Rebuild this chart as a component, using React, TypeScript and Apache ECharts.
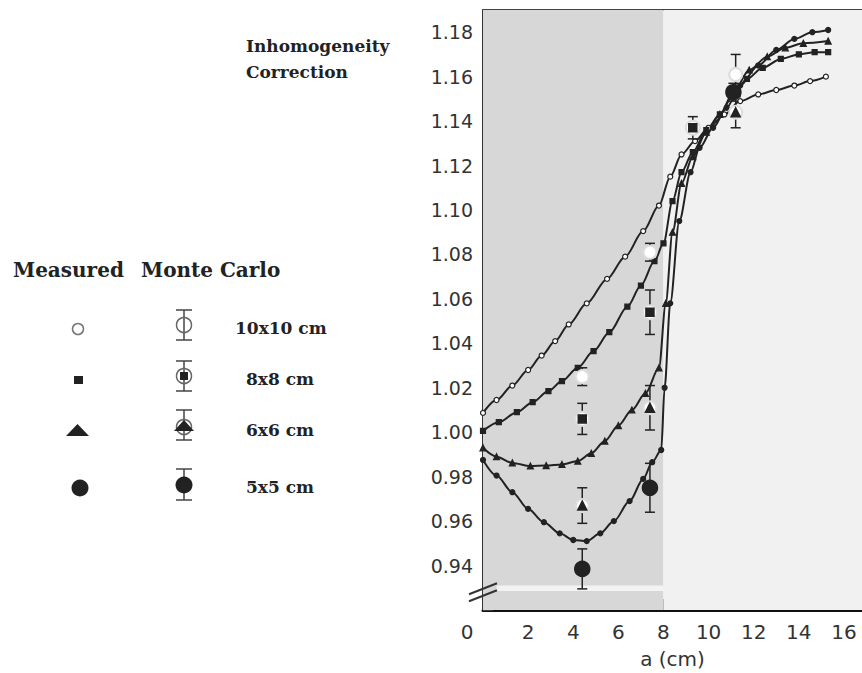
import React, { useEffect, useRef } from "react";
import * as echarts from "echarts";

// Measured curves (x in cm, inhomogeneity correction)
const X10 = [0, 0.6, 1.3, 2.0, 2.6, 3.2, 3.8, 4.6, 5.5, 6.3, 7.1, 7.8, 8.3, 8.8, 9.4, 10.0, 10.7, 11.4, 12.2, 13.0, 13.8, 14.5, 15.2];
const Y10 = [1.0087, 1.0145, 1.021, 1.028, 1.0345, 1.041, 1.0485, 1.058, 1.069, 1.079, 1.0905, 1.102, 1.115, 1.125, 1.131, 1.137, 1.143, 1.149, 1.152, 1.154, 1.156, 1.158, 1.16];

const X8 = [0, 0.7, 1.5, 2.2, 2.9, 3.5, 4.2, 4.9, 5.6, 6.4, 7.0, 7.6, 8.0, 8.4, 8.8, 9.3, 9.9, 10.5, 11.1, 11.7, 12.4, 13.2, 14.0, 14.7, 15.3];
const Y8 = [1.0006, 1.0045, 1.009, 1.0135, 1.0185, 1.023, 1.029, 1.0365, 1.045, 1.0565, 1.066, 1.077, 1.085, 1.104, 1.117, 1.126, 1.136, 1.143, 1.152, 1.159, 1.164, 1.168, 1.17, 1.171, 1.171];

const X6 = [0, 0.6, 1.3, 2.1, 2.8, 3.5, 4.2, 4.8, 5.4, 6.0, 6.6, 7.2, 7.8, 8.1, 8.4, 8.8, 9.3, 9.9, 10.5, 11.1, 11.8, 12.6, 13.4, 14.2, 15.3];
const Y6 = [0.993, 0.989, 0.9862, 0.9848, 0.985, 0.9855, 0.987, 0.9905, 0.996, 1.003, 1.01, 1.0175, 1.029, 1.058, 1.09, 1.112, 1.124, 1.135, 1.143, 1.153, 1.163, 1.169, 1.173, 1.175, 1.176];

const X5 = [0, 0.6, 1.3, 2.0, 2.7, 3.4, 4.0, 4.6, 5.2, 5.8, 6.5, 7.1, 7.5, 7.9, 8.05, 8.3, 8.7, 9.2, 9.6, 10.2, 10.8, 11.4, 12.2, 13.0, 13.8, 14.6, 15.3];
const Y5 = [0.9875, 0.9805, 0.973, 0.9655, 0.9595, 0.9545, 0.9515, 0.951, 0.9545, 0.96, 0.969, 0.979, 0.9865, 0.992, 1.02, 1.058, 1.095, 1.117, 1.128, 1.137, 1.146, 1.156, 1.165, 1.172, 1.177, 1.18, 1.181];

// Monte Carlo points: x, value, error
const MC10_X = [4.4, 7.4, 11.2];
const MC10_Y = [1.025, 1.081, 1.161];
const MC10_E = [0.004, 0.004, 0.009];
const MC8_X = [4.4, 7.4, 9.3];
const MC8_Y = [1.006, 1.054, 1.137];
const MC8_E = [0.007, 0.01, 0.005];
const MC6_X = [4.4, 7.4, 11.2];
const MC6_Y = [0.967, 1.011, 1.144];
const MC6_E = [0.008, 0.01, 0.007];
const MC5_X = [4.4, 7.4, 11.1];
const MC5_Y = [0.9385, 0.975, 1.153];
const MC5_E = [0.009, 0.011, 0.004];

const SLAB = [0, 8];
const X_MIN = 0;
const X_MAX = 16.8;
const Y_MIN = 0.92;
const Y_MAX = 1.19;

const LEGEND_LABELS = ["10x10 cm", "8x8 cm", "6x6 cm", "5x5 cm"];

const zip = (xs: number[], ys: number[]) => xs.map((x, i) => [x, ys[i]]);
const zip3 = (xs: number[], ys: number[], es: number[]) => xs.map((x, i) => [x, ys[i], es[i]]);

const INK = "#222";
const SERIF = '"DejaVu Serif", serif';

function lineSeries(name: string, data: number[][], symbol: string, size: number, fill: string) {
  return {
    name,
    type: "line",
    data,
    smooth: 0.3,
    smoothMonotone: "x",
    symbol,
    symbolSize: size,
    showAllSymbol: true,
    lineStyle: { color: INK, width: 2, type: "solid" },
    itemStyle: { color: fill, borderColor: INK, borderWidth: 1.2 },
    z: 3,
  };
}

function errSeries(data: number[][]) {
  return {
    type: "custom",
    data,
    z: 4,
    renderItem: (params: any, api: any) => {
      const x = api.value(0);
      const y = api.value(1);
      const e = api.value(2);
      const t = api.coord([x, y + e]);
      const b = api.coord([x, y - e]);
      const w = 5;
      const st = { stroke: INK, lineWidth: 1.5 };
      return {
        type: "group",
        children: [
          { type: "line", shape: { x1: t[0], y1: t[1], x2: b[0], y2: b[1] }, style: st },
          { type: "line", shape: { x1: t[0] - w, y1: t[1], x2: t[0] + w, y2: t[1] }, style: st },
          { type: "line", shape: { x1: b[0] - w, y1: b[1], x2: b[0] + w, y2: b[1] }, style: st },
        ],
      };
    },
  };
}

function scat(data: number[][], symbol: string, size: number, fill: string, z = 5) {
  return {
    type: "scatter",
    data,
    symbol,
    symbolSize: size,
    itemStyle: { color: fill, borderColor: INK, borderWidth: 1.5, opacity: 1 },
    z,
  };
}

function legendGraphics() {
  const g: any[] = [];
  const txt = (text: string, x: number, y: number, size: number) => ({
    type: "text",
    x,
    y,
    style: { text, fontSize: size, fontWeight: "bold", fontFamily: SERIF, fill: INK, verticalAlign: "middle", align: "left" },
  });
  g.push(txt("Inhomogeneity", 246, 46, 17));
  g.push(txt("Correction", 246, 72, 17));
  g.push(txt("Measured", 13, 270, 20));
  g.push(txt("Monte Carlo", 141, 270, 20));
  const rows = [329, 380, 431, 488];
  LEGEND_LABELS.forEach((l, i) => g.push(txt(l, i === 0 ? 235 : 246, rows[i] - 1, 17)));
  // measured symbols
  g.push({ type: "circle", shape: { cx: 78, cy: rows[0], r: 5.5 }, style: { fill: "#fff", stroke: "#777", lineWidth: 1.5 } });
  g.push({ type: "rect", shape: { x: 74, y: rows[1] - 4, width: 9, height: 8 }, style: { fill: INK } });
  g.push({ type: "polygon", shape: { points: [[66, rows[2] + 5], [89, rows[2] + 5], [77.5, rows[2] - 7]] }, style: { fill: INK } });
  g.push({ type: "circle", shape: { cx: 80, cy: rows[3], r: 8.5 }, style: { fill: INK } });
  // Monte Carlo symbols with error bars
  const mx = 184;
  const bar = (cy: number, up: number, dn: number) => {
    const st = { stroke: "#444", lineWidth: 1.5 };
    g.push({ type: "line", shape: { x1: mx, y1: cy - up, x2: mx, y2: cy + dn }, style: st });
    g.push({ type: "line", shape: { x1: mx - 8, y1: cy - up, x2: mx + 8, y2: cy - up }, style: st });
    g.push({ type: "line", shape: { x1: mx - 8, y1: cy + dn, x2: mx + 8, y2: cy + dn }, style: st });
  };
  bar(325, 15, 15);
  g.push({ type: "circle", shape: { cx: mx, cy: 325, r: 7.5 }, style: { fill: "none", stroke: "#666", lineWidth: 1.5 } });
  bar(376, 15, 15);
  g.push({ type: "circle", shape: { cx: mx, cy: 376, r: 7.5 }, style: { fill: "none", stroke: "#666", lineWidth: 1.5 } });
  g.push({ type: "rect", shape: { x: mx - 4, y: 372, width: 8, height: 8 }, style: { fill: INK } });
  bar(427, 17, 13);
  g.push({ type: "circle", shape: { cx: mx, cy: 427, r: 7.5 }, style: { fill: "none", stroke: "#666", lineWidth: 1.5 } });
  g.push({ type: "polygon", shape: { points: [[mx - 10, 431], [mx + 10, 431], [mx, 420]] }, style: { fill: INK } });
  bar(485, 16, 15);
  g.push({ type: "circle", shape: { cx: mx, cy: 485, r: 8.5 }, style: { fill: INK } });
  return g;
}

export default function App() {
  const ref = useRef<HTMLDivElement>(null);
  useEffect(() => {
    if (!ref.current) return;
    const chart = echarts.init(ref.current, undefined, { renderer: "svg" });
    const axisFont = { fontFamily: '"DejaVu Sans", sans-serif', color: "#333" };
    const option: any = {
      animation: false,
      backgroundColor: "#fff",
      grid: { left: 483, right: 0, top: 10, bottom: 63, containLabel: false, outerBoundsMode: "none" },
      xAxis: [
        {
          type: "value",
          min: X_MIN,
          max: X_MAX,
          interval: 2,
          name: "a (cm)",
          nameLocation: "middle",
          nameGap: 39,
          nameTextStyle: { ...axisFont, fontSize: 20 },
          axisLine: { onZero: false, lineStyle: { color: "#111", width: 3 } },
          axisTick: { inside: true, length: 11, lineStyle: { color: "#333", width: 2 } },
          axisLabel: {
            ...axisFont,
            fontSize: 20,
            margin: 12,
            formatter: (v: number) => (Math.abs(v % 2) > 1e-6 ? "" : v === 0 ? "{z|0}" : String(v)),
            rich: { z: { ...axisFont, fontSize: 20, padding: [0, 32, 0, 0] } },
          },
          splitLine: { show: false },
        },
        {
          type: "value",
          position: "top",
          min: X_MIN,
          max: X_MAX,
          axisLine: { show: true, onZero: false, lineStyle: { color: "#444", width: 2 } },
          axisTick: { show: false },
          axisLabel: { show: false },
          splitLine: { show: false },
        },
      ],
      yAxis: [
        {
          type: "value",
          min: Y_MIN,
          max: Y_MAX,
          interval: 0.02,
          axisLine: { show: true, onZero: false, lineStyle: { color: "#333", width: 2 } },
          axisTick: { inside: true, length: 10, lineStyle: { color: "#444", width: 1.5 } },
          axisLabel: {
            ...axisFont,
            fontSize: 19,
            margin: 10,
            formatter: (v: number) => (v < 0.935 || v > 1.185 ? "" : v.toFixed(2)),
          },
          splitLine: { show: false },
        },
        {
          type: "value",
          min: Y_MIN,
          max: Y_MAX,
          interval: 0.02,
          axisLine: { show: false },
          axisTick: { show: true, inside: false, length: 7, lineStyle: { color: "#444", width: 1.5 } },
          axisLabel: { show: false },
          splitLine: { show: false },
        },
      ],
      series: [
        {
          type: "line",
          data: [],
          silent: true,
          markArea: {
            silent: true,
            data: [
              [{ xAxis: SLAB[0], yAxis: Y_MIN, itemStyle: { color: "#d7d7d7" } }, { xAxis: SLAB[1], yAxis: Y_MAX }],
              [{ xAxis: SLAB[1], yAxis: Y_MIN, itemStyle: { color: "#f1f1f1" } }, { xAxis: X_MAX, yAxis: Y_MAX }],
              [{ xAxis: 0.6, yAxis: 0.9285, itemStyle: { color: "#f3f3f3" } }, { xAxis: SLAB[1], yAxis: 0.931 }],
            ],
          },
          z: 1,
        },
        lineSeries("10x10", zip(X10, Y10), "circle", 5, "#fff"),
        lineSeries("8x8", zip(X8, Y8), "rect", 5, INK),
        lineSeries("6x6", zip(X6, Y6), "triangle", 6, INK),
        lineSeries("5x5", zip(X5, Y5), "circle", 5, INK),
        errSeries(zip3(MC10_X, MC10_Y, MC10_E)),
        errSeries(zip3(MC8_X, MC8_Y, MC8_E)),
        errSeries(zip3(MC6_X, MC6_Y, MC6_E)),
        errSeries(zip3(MC5_X, MC5_Y, MC5_E)),
        scat(zip(MC10_X, MC10_Y), "emptyCircle", 13, "#ddd"),
        scat(zip(MC8_X, MC8_Y), "emptyCircle", 14, "#ddd"),
        scat(zip(MC8_X, MC8_Y), "rect", 8, INK, 6),
        scat(zip(MC6_X, MC6_Y), "emptyCircle", 13, "#ddd"),
        scat(zip(MC6_X, MC6_Y), "triangle", 9, INK, 6),
        scat(zip(MC5_X, MC5_Y), "circle", 15, INK),
      ],
      graphic: legendGraphics(),
    };
    chart.setOption(option);
    // axis break marks on the y axis
    const p = chart.convertToPixel({ gridIndex: 0 }, [0, 0.928]) as number[];
    if (p) {
      const st = { stroke: "#333", lineWidth: 2 };
      chart.setOption({
        graphic: [
          ...legendGraphics(),
          { type: "line", shape: { x1: p[0] - 14, y1: p[1] + 2, x2: p[0] + 14, y2: p[1] - 9 }, style: st, z: 10 },
          { type: "line", shape: { x1: p[0] - 14, y1: p[1] + 9, x2: p[0] + 14, y2: p[1] - 2 }, style: st, z: 10 },
        ],
      });
    }
    return () => chart.dispose();
  }, []);
  return <div ref={ref} style={{ position: "absolute", left: 0, top: 0, width: 862, height: 673 }} />;
}
